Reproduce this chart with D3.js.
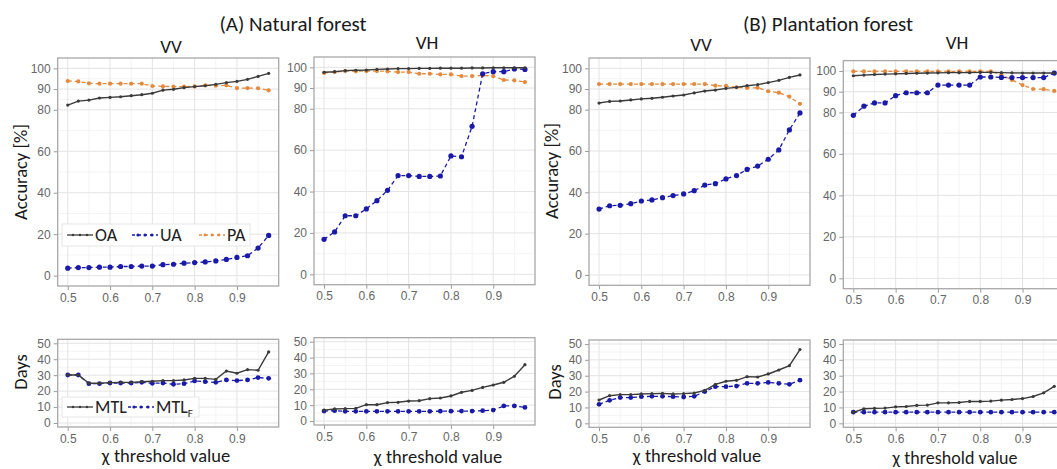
<!DOCTYPE html>
<html>
<head>
<meta charset="utf-8">
<script src="https://cdn.jsdelivr.net/npm/d3@7/dist/d3.min.js"></script>
<style>
  body { margin: 0; background: #fff; }
  svg { display: block; }
</style>
</head>
<body>
<div id="chart"></div>
<script>
// threshold values (x axis)
const thresholds = [0.5, 0.525, 0.55, 0.575, 0.6, 0.625, 0.65, 0.675, 0.7, 0.725,
                    0.75, 0.775, 0.8, 0.825, 0.85, 0.875, 0.9, 0.925, 0.95, 0.975];

// (A) natural forest, accuracy [%]
const natVV_OA = [82.3, 84.2, 84.7, 85.7, 86.0, 86.3, 86.8, 87.3, 88.0, 89.5, 89.9, 90.7, 91.2, 91.6, 92.3, 93.1, 93.7, 94.7, 96.1, 97.6];
const natVV_UA = [3.6, 3.9, 3.9, 4.1, 4.1, 4.4, 4.4, 4.6, 4.6, 5.3, 5.5, 6.0, 6.3, 6.6, 7.1, 7.8, 8.8, 9.6, 13.3, 19.4];
const natVV_PA = [93.9, 93.7, 92.8, 92.6, 92.6, 92.6, 92.6, 92.6, 91.5, 91.3, 91.2, 91.2, 91.3, 91.8, 91.6, 91.8, 90.5, 90.5, 90.4, 89.4];
const natVH_OA = [97.6, 97.9, 98.4, 98.6, 98.7, 99.0, 99.2, 99.4, 99.4, 99.5, 99.5, 99.6, 99.6, 99.6, 99.7, 99.7, 99.8, 99.8, 99.8, 99.8];
const natVH_UA = [16.9, 20.5, 28.3, 28.3, 31.6, 35.6, 40.6, 47.7, 47.7, 47.3, 47.3, 47.5, 57.2, 56.8, 71.5, 96.9, 97.9, 97.9, 99.2, 99.0];
const natVH_PA = [97.3, 97.7, 98.2, 98.1, 98.2, 98.2, 98.1, 97.7, 97.7, 96.9, 96.9, 96.6, 96.6, 95.8, 95.8, 96.1, 95.8, 93.9, 93.7, 92.9];

// (B) plantation forest, accuracy [%]
const plaVV_OA = [83.2, 84.0, 84.2, 84.7, 85.2, 85.5, 86.0, 86.6, 87.1, 88.1, 89.0, 89.5, 90.3, 90.8, 91.6, 92.1, 93.1, 94.2, 95.6, 96.8];
const plaVV_UA = [31.9, 33.5, 33.7, 34.5, 35.8, 36.3, 37.4, 38.4, 39.2, 40.8, 43.5, 44.2, 46.5, 48.1, 51.1, 52.7, 56.0, 60.5, 70.2, 78.4];
const plaVV_PA = [92.4, 92.4, 92.4, 92.4, 92.4, 92.4, 92.4, 92.4, 92.4, 92.4, 92.4, 91.6, 91.5, 90.8, 90.5, 90.6, 88.9, 88.2, 86.3, 82.8];
const plaVH_OA = [97.7, 98.0, 98.3, 98.5, 98.6, 98.8, 98.9, 99.0, 99.1, 99.2, 99.2, 99.2, 99.3, 99.3, 99.2, 99.1, 99.0, 99.0, 99.0, 99.0];
const plaVH_UA = [78.6, 83.0, 84.6, 84.6, 88.1, 89.5, 89.5, 89.5, 93.2, 93.2, 93.2, 93.2, 97.1, 97.1, 96.9, 96.8, 96.8, 96.8, 96.8, 99.0];
const plaVH_PA = [99.8, 99.8, 99.8, 99.8, 99.8, 99.8, 99.8, 99.8, 99.8, 99.8, 99.8, 99.8, 99.8, 99.8, 98.2, 95.7, 93.2, 91.3, 91.2, 90.4];

// days
const natVV_MTL  = [30.1, 30.1, 24.9, 24.9, 25.3, 25.5, 25.5, 25.9, 26.2, 26.6, 26.6, 27.0, 28.0, 28.0, 27.4, 32.6, 31.2, 33.5, 33.1, 44.6];
const natVV_MTLF = [30.1, 30.1, 24.7, 24.7, 25.1, 25.1, 25.1, 25.5, 24.9, 25.1, 24.3, 24.7, 26.4, 25.9, 25.5, 27.0, 26.6, 27.0, 28.5, 28.0];
const natVH_MTL  = [6.9, 7.6, 7.8, 8.0, 10.3, 10.3, 11.6, 11.8, 12.6, 12.8, 14.1, 14.5, 15.8, 18.1, 19.3, 21.2, 22.7, 24.4, 28.2, 35.5];
const natVH_MTLF = [6.3, 6.5, 6.1, 6.1, 6.1, 6.1, 6.1, 6.1, 6.1, 6.1, 6.1, 6.2, 6.2, 6.3, 6.3, 6.5, 6.9, 9.5, 9.5, 8.6];
const plaVV_MTL  = [14.7, 17.4, 18.1, 18.1, 18.5, 18.7, 18.9, 18.5, 18.7, 19.1, 20.8, 24.6, 26.5, 27.1, 29.4, 29.2, 31.1, 33.6, 36.3, 46.5];
const plaVV_MTLF = [12.0, 14.5, 16.2, 16.2, 16.8, 17.0, 17.0, 16.8, 16.6, 17.0, 20.0, 23.1, 23.1, 23.5, 25.2, 25.2, 25.8, 25.2, 24.6, 27.2];
const plaVH_MTL  = [6.9, 9.2, 9.4, 9.6, 10.4, 10.6, 11.3, 11.5, 12.9, 12.9, 13.1, 13.8, 13.8, 14.0, 14.6, 15.0, 15.6, 16.9, 19.2, 23.3];
const plaVH_MTLF = [7.0, 7.0, 7.0, 7.0, 7.0, 7.0, 7.0, 7.0, 7.0, 7.0, 7.0, 7.0, 7.0, 7.0, 7.0, 7.0, 7.0, 7.0, 7.0, 7.0];

// tick labels
const xTicks = [0.5, 0.6, 0.7, 0.8, 0.9];
const xMinor = [0.55, 0.65, 0.75, 0.85, 0.95];
const accTicks = [0, 20, 40, 60, 80, 90, 100];
const accMinor = [10, 30, 50, 70, 85, 95];
const dayTicks = [0, 10, 20, 30, 40, 50];
const dayMinor = [5, 15, 25, 35, 45];

const width = 1057, height = 469;
const panelW = 221;
const xDomain = [0.47625, 0.99875];

const titleFont = "Carlito, 'Liberation Sans Narrow', 'Open Sans', sans-serif";
const tickFont = "'Liberation Sans', Arial, sans-serif";

const colors = { OA: '#3a3a3a', UA: '#1a1aa8', PA: '#e38a3e' };

const svg = d3.select('#chart').append('svg')
  .attr('width', width).attr('height', height);

function accSeries(oa, ua, pa) {
  return [
    { values: pa, color: colors.PA, dash: '4,3', w: 1.3, r: 2.1 },
    { values: ua, color: colors.UA, dash: '4,3', w: 1.3, r: 2.6 },
    { values: oa, color: colors.OA, dash: null, w: 1.4, r: 1.6 }
  ];
}
function daySeries(mtl, mtlf) {
  return [
    { values: mtlf, color: colors.UA, dash: '4,3', w: 1.3, r: 2.4 },
    { values: mtl, color: colors.OA, dash: null, w: 1.4, r: 1.6 }
  ];
}

const panels = [
  { left: 57.7, top: 58, bottom: 286, y: [-5, 105], ticks: accTicks, minor: accMinor, series: accSeries(natVV_OA, natVV_UA, natVV_PA) },
  { left: 314, top: 57, bottom: 284.7, y: [-5, 105], ticks: accTicks, minor: accMinor, series: accSeries(natVH_OA, natVH_UA, natVH_PA) },
  { left: 589, top: 58, bottom: 285.3, y: [-5, 105], ticks: accTicks, minor: accMinor, series: accSeries(plaVV_OA, plaVV_UA, plaVV_PA) },
  { left: 843.3, top: 60.6, bottom: 288.7, y: [-5, 105], ticks: accTicks, minor: accMinor, series: accSeries(plaVH_OA, plaVH_UA, plaVH_PA) },
  { left: 57.7, top: 339.3, bottom: 427, y: [-2.5, 52.5], ticks: dayTicks, minor: dayMinor, series: daySeries(natVV_MTL, natVV_MTLF) },
  { left: 314, top: 337.7, bottom: 425, y: [-2.5, 52.5], ticks: dayTicks, minor: dayMinor, series: daySeries(natVH_MTL, natVH_MTLF) },
  { left: 589, top: 340, bottom: 427.3, y: [-2.5, 52.5], ticks: dayTicks, minor: dayMinor, series: daySeries(plaVV_MTL, plaVV_MTLF) },
  { left: 843.3, top: 340, bottom: 427.3, y: [-2.5, 52.5], ticks: dayTicks, minor: dayMinor, series: daySeries(plaVH_MTL, plaVH_MTLF) }
];

panels.forEach((p, i) => {
  const x = d3.scaleLinear().domain(xDomain).range([p.left, p.left + panelW]);
  const y = d3.scaleLinear().domain(p.y).range([p.bottom, p.top]);
  const g = svg.append('g');

  g.append('rect')
    .attr('x', p.left).attr('y', p.top)
    .attr('width', panelW).attr('height', p.bottom - p.top)
    .attr('fill', '#fff');

  // grid
  g.selectAll('.gxm').data(xMinor).enter().append('line')
    .attr('x1', d => x(d)).attr('x2', d => x(d)).attr('y1', p.top).attr('y2', p.bottom)
    .attr('stroke', '#f1f1f1').attr('stroke-width', 0.8);
  g.selectAll('.gym').data(p.minor).enter().append('line')
    .attr('x1', p.left).attr('x2', p.left + panelW).attr('y1', d => y(d)).attr('y2', d => y(d))
    .attr('stroke', '#f1f1f1').attr('stroke-width', 0.8);
  g.selectAll('.gx').data(xTicks).enter().append('line')
    .attr('x1', d => x(d)).attr('x2', d => x(d)).attr('y1', p.top).attr('y2', p.bottom)
    .attr('stroke', '#e3e3e3').attr('stroke-width', 1);
  g.selectAll('.gy').data(p.ticks).enter().append('line')
    .attr('x1', p.left).attr('x2', p.left + panelW).attr('y1', d => y(d)).attr('y2', d => y(d))
    .attr('stroke', '#e3e3e3').attr('stroke-width', 1);

  // axes
  const ax = g.append('g').attr('transform', `translate(0,${p.bottom})`)
    .call(d3.axisBottom(x).tickValues(xTicks).tickFormat(d3.format('.1f')).tickSize(4).tickPadding(3));
  const ay = g.append('g').attr('transform', `translate(${p.left},0)`)
    .call(d3.axisLeft(y).tickValues(p.ticks).tickSize(4).tickPadding(3));
  [ax, ay].forEach(a => {
    a.select('.domain').remove();
    a.selectAll('line').attr('stroke', '#9a9a9a');
    a.selectAll('text').attr('fill', '#666').style('font-family', tickFont).style('font-size', '12px');
  });

  // series
  p.series.forEach(s => {
    const line = d3.line().x((d, j) => x(thresholds[j])).y(d => y(d));
    g.append('path').datum(s.values)
      .attr('d', line).attr('fill', 'none')
      .attr('stroke', s.color).attr('stroke-width', s.w)
      .attr('stroke-dasharray', s.dash);
    g.selectAll(null).data(s.values).enter().append('circle')
      .attr('cx', (d, j) => x(thresholds[j])).attr('cy', d => y(d))
      .attr('r', s.r).attr('fill', s.color);
  });

  g.append('rect')
    .attr('x', p.left).attr('y', p.top)
    .attr('width', panelW).attr('height', p.bottom - p.top)
    .attr('fill', 'none').attr('stroke', '#a8a8a8').attr('stroke-width', 1.3);
});

// legends
function legend(box, items) {
  const lg = svg.append('g');
  lg.append('rect').attr('x', box.x).attr('y', box.y).attr('width', box.w).attr('height', box.h)
    .attr('fill', '#fff').attr('stroke', '#e6e6e6');
  items.forEach(it => {
    const cy = box.y + box.h / 2;
    lg.append('line').attr('x1', it.x).attr('x2', it.x + 26).attr('y1', cy).attr('y2', cy)
      .attr('stroke', it.color).attr('stroke-width', 1.3).attr('stroke-dasharray', it.dash);
    [it.x + 6, it.x + 13, it.x + 20].forEach(cx => {
      lg.append('circle').attr('cx', cx).attr('cy', cy).attr('r', it.r).attr('fill', it.color);
    });
    const t = lg.append('text').attr('x', it.x + 28).attr('y', cy + 6)
      .style('font-family', titleFont).style('font-size', '18px').attr('fill', '#222')
      .text(it.label);
    if (it.sub) t.append('tspan').attr('dy', 4).style('font-size', '11px').text(it.sub);
  });
}
legend({ x: 62, y: 224, w: 188, h: 22 }, [
  { x: 67, label: 'OA', color: colors.OA, dash: null, r: 1.2 },
  { x: 132, label: 'UA', color: colors.UA, dash: '3,3', r: 1.6 },
  { x: 199, label: 'PA', color: colors.PA, dash: '3,3', r: 1.4 }
]);
legend({ x: 62, y: 397, w: 137, h: 20 }, [
  { x: 67, label: 'MTL', color: colors.OA, dash: null, r: 1.2 },
  { x: 128, label: 'MTL', sub: 'F', color: colors.UA, dash: '3,3', r: 1.6 }
]);

// titles and axis labels
function label(txt, x, y, size, rotate) {
  const t = svg.append('text')
    .attr('text-anchor', 'middle')
    .style('font-family', titleFont).style('font-size', size + 'px')
    .attr('fill', '#1a1a1a').text(txt);
  if (rotate) t.attr('transform', `translate(${x},${y}) rotate(-90)`);
  else t.attr('x', x).attr('y', y);
}
label('(A) Natural forest', 293, 31, 21);
label('(B) Plantation forest', 828, 31, 21);
label('VV', 171, 53, 19);
label('VH', 427, 49, 19);
label('VV', 701, 51, 19);
label('VH', 957, 49, 19);
label('Accuracy [%]', 27, 172, 18.5, true);
label('Accuracy [%]', 558, 171, 18.5, true);
label('Days', 27, 372, 18.5, true);
label('Days', 561, 382, 18.5, true);
label('\u03c7 threshold value', 166, 462, 18.5);
label('\u03c7 threshold value', 438, 463, 18.5);
label('\u03c7 threshold value', 697, 462, 18.5);
label('\u03c7 threshold value', 955, 463.5, 18);
</script>
</body>
</html>
